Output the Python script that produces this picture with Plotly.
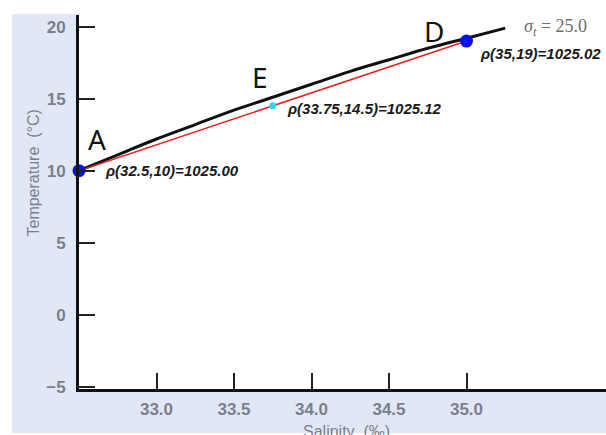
import plotly.graph_objects as go

# sigma-t = 25.0 isopycnal in T-S space
iso_salinity = [32.5, 32.75, 33.0, 33.25, 33.5, 33.75, 34.0, 34.25, 34.5, 34.75, 35.0, 35.25]
iso_temperature = [10.0, 11.1, 12.2, 13.2, 14.2, 15.1, 16.0, 16.9, 17.7, 18.5, 19.2, 19.9]
iso_label = "<i>σ<sub>t</sub></i> = 25.0"

# water parcels: two end members and their mixture
point_names = ["A", "E", "D"]
point_salinity = [32.5, 33.75, 35.0]
point_temperature = [10, 14.5, 19]
point_density = [1025.00, 1025.12, 1025.02]

x_ticks = [33.0, 33.5, 34.0, 34.5, 35.0]
y_ticks = [-5, 0, 5, 10, 15, 20]

W, H = 606, 435
ML, MR, MT, MB = 79, 0, 15, 46

fig = go.Figure()

fig.add_trace(go.Scatter(x=iso_salinity, y=iso_temperature, mode="lines",
                         line=dict(color="#111111", width=3, shape="spline"),
                         hoverinfo="skip"))

# straight mixing line between A and D
ia, id_ = 0, 2
fig.add_trace(go.Scatter(x=[point_salinity[ia], point_salinity[id_]],
                         y=[point_temperature[ia], point_temperature[id_]],
                         mode="lines", line=dict(color="#e02424", width=1.5),
                         hoverinfo="skip"))

fig.add_trace(go.Scatter(x=[point_salinity[ia], point_salinity[id_]],
                         y=[point_temperature[ia], point_temperature[id_]],
                         mode="markers", marker=dict(color="#0a12e8", size=13),
                         cliponaxis=False))
fig.add_trace(go.Scatter(x=[point_salinity[1]], y=[point_temperature[1]],
                         mode="markers", marker=dict(color="#2ed8ea", size=7),
                         cliponaxis=False))

# letter labels and density labels
letter_shift = {"A": (18, 32), "E": (-13, 29), "D": (-33, 10)}
value_shift = {"A": (24, 0), "E": (12, -3), "D": (11, -12)}
for name, s, t, rho in zip(point_names, point_salinity, point_temperature, point_density):
    dx, dy = letter_shift[name]
    fig.add_annotation(x=s, y=t, text=name, showarrow=False, xshift=dx, yshift=dy,
                       font=dict(family="Noto Sans", size=28, color="#111111"))
    vx, vy = value_shift[name]
    fig.add_annotation(x=s, y=t, text=f"<b><i>ρ({s:g},{t:g})={rho:.2f}</i></b>",
                       showarrow=False, xanchor="left", xshift=vx, yshift=vy,
                       font=dict(family="Liberation Sans", size=15, color="#1a1a1a"))

fig.add_annotation(x=iso_salinity[-1], y=iso_temperature[-1], text=iso_label,
                   showarrow=False, xanchor="left", xshift=17, yshift=1,
                   font=dict(family="Liberation Serif", size=18, color="#6e6e6e"))

# axis titles
fig.add_annotation(xref="paper", yref="paper", x=(22 - ML) / (W - ML - MR),
                   y=1 - (173 - MT) / (H - MT - MB), text="Temperature  (°C)",
                   textangle=-90, showarrow=False,
                   font=dict(family="Liberation Sans", size=16, color="#7a7f8c"))
fig.add_annotation(xref="paper", yref="paper", x=(346 - ML) / (W - ML - MR),
                   y=-(421 - (H - MB)) / (H - MT - MB), yanchor="top",
                   text="Salinity  (‰)", showarrow=False,
                   font=dict(family="Liberation Sans", size=16, color="#7a7f8c"))

# scanned page background around the plot area
pw, ph = W - ML - MR, H - MT - MB
bg = "#e2e7f6"
fig.add_shape(type="rect", xref="paper", yref="paper", layer="below",
              x0=(12 - ML) / pw, x1=0, y0=-(433 - (H - MB)) / ph, y1=1 + 1 / ph,
              fillcolor=bg, line_width=0)
fig.add_shape(type="rect", xref="paper", yref="paper", layer="below",
              x0=0, x1=1, y0=-(433 - (H - MB)) / ph, y1=0,
              fillcolor=bg, line_width=0)

tickfont = dict(family="Liberation Sans", size=17, color="#7a7f8c", weight="bold")
fig.update_xaxes(range=[32.5, 35.9], tickvals=x_ticks, ticktext=[f"{v:.1f}" for v in x_ticks],
                 ticks="inside", ticklen=16, tickwidth=2, tickcolor="#222222",
                 showline=True, linecolor="#111111", linewidth=3, showgrid=False,
                 zeroline=False, tickfont=tickfont, ticklabelstandoff=3)
fig.update_yaxes(range=[-5.16, 20.81], tickvals=y_ticks,
                 ticks="inside", ticklen=16, tickwidth=2, tickcolor="#222222",
                 showline=True, linecolor="#111111", linewidth=3, showgrid=False,
                 zeroline=False, tickfont=tickfont, ticklabelstandoff=7)

fig.update_layout(width=W, height=H, margin=dict(l=ML, r=MR, t=MT, b=MB),
                  paper_bgcolor="white", plot_bgcolor="white", showlegend=False)

fig.write_html("out.html")
